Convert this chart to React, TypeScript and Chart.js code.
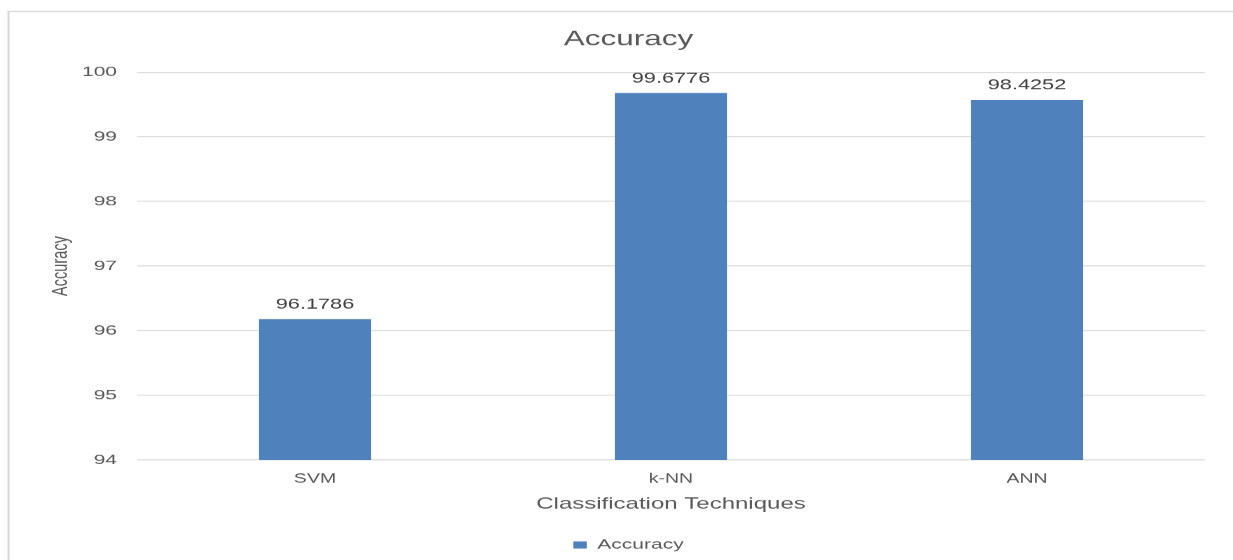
import React, { useEffect, useRef } from "react";
import { Chart, registerables } from "chart.js";

Chart.register(...registerables);

// ---- data ----
const categories = ["SVM", "k-NN", "ANN"];
const accuracyValues = [96.1786, 99.6776, 99.57];
const valueLabels = ["96.1786", "99.6776", "98.4252"];
const yTickValues = [94, 95, 96, 97, 98, 99, 100];
const chartTitle = "Accuracy";
const seriesName = "Accuracy";
const xAxisTitle = "Classification Techniques";
const yAxisTitle = "Accuracy";

// ---- layout (the reference is horizontally stretched by 1.5) ----
const W = 1233;
const H = 560;
const SX = 1.5;
const CW = 838; // chart object extends a little past the right edge of the window
const PLOT_LEFT = 137 / SX;
const PLOT_RIGHT = 1205 / SX;
const FONT = "'Liberation Sans', Arial, sans-serif";
const TEXT = "#595959";
const BAR = "#4f81bd";

const borderPlugin = {
  id: "outerBorder",
  beforeDraw(chart: any) {
    const ctx = chart.ctx;
    ctx.save();
    ctx.fillStyle = "#ffffff";
    ctx.fillRect(0, 0, chart.width, chart.height);
    ctx.strokeStyle = "#d9d9d9";
    ctx.lineWidth = 1.4;
    ctx.beginPath();
    ctx.moveTo(5.7, 11.5);
    ctx.lineTo(5.7, chart.height);
    ctx.stroke();
    ctx.lineWidth = 1.2;
    ctx.beginPath();
    ctx.moveTo(5, 11.5);
    ctx.lineTo(chart.width, 11.5);
    ctx.stroke();
    ctx.restore();
  },
};

const dataLabelPlugin = {
  id: "dataLabels",
  afterDatasetsDraw(chart: any) {
    const ctx = chart.ctx;
    const meta = chart.getDatasetMeta(0);
    ctx.save();
    ctx.fillStyle = "#404040";
    ctx.font = `14.5px ${FONT}`;
    ctx.textAlign = "center";
    ctx.textBaseline = "middle";
    meta.data.forEach((bar: any, i: number) => {
      ctx.fillText(valueLabels[i], bar.x, bar.y - 14.5);
    });
    ctx.restore();
  },
};

export default function App() {
  const canvasRef = useRef<HTMLCanvasElement | null>(null);

  useEffect(() => {
    const canvas = canvasRef.current;
    if (!canvas) return;
    const chart = new Chart(canvas, {
      type: "bar",
      data: {
        labels: categories,
        datasets: [
          {
            label: seriesName,
            data: accuracyValues,
            backgroundColor: BAR,
            borderWidth: 0,
            categoryPercentage: 1,
            barPercentage: 0.315,
            yAxisID: "y",
          },
        ],
      },
      plugins: [borderPlugin, dataLabelPlugin],
      options: {
        animation: false,
        responsive: false,
        devicePixelRatio: 1.5,
        layout: {
          padding: { left: 0, right: 0, top: 0, bottom: -2 },
        },
        plugins: {
          title: {
            display: true,
            text: chartTitle,
            color: TEXT,
            font: { family: FONT, size: 21, weight: "normal" },
            padding: { top: 27, bottom: 20 },
          },
          legend: {
            position: "bottom",
            labels: {
              color: TEXT,
              font: { family: FONT, size: 14 },
              boxWidth: 9,
              boxHeight: 7,
              padding: 10,
            },
          },
          tooltip: { enabled: false },
        },
        scales: {
          x: {
            grid: { display: false, drawTicks: false },
            border: { display: false },
            ticks: {
              color: TEXT,
              font: { family: FONT, size: 13 },
              padding: 11,
            },
            title: {
              display: true,
              text: xAxisTitle,
              color: TEXT,
              font: { family: FONT, size: 16 },
              padding: { top: 0, bottom: 14 },
            },
            afterFit: (scale: any) => {
              scale.height = 68;
            },
          },
          y: {
            min: yTickValues[0],
            max: yTickValues[yTickValues.length - 1],
            afterBuildTicks: (scale: any) => {
              scale.ticks = yTickValues.map((v) => ({ value: v }));
            },
            ticks: {
              color: TEXT,
              font: { family: FONT, size: 14 },
              padding: 13.3,
            },
            grid: { color: "#d9d9d9", drawTicks: false },
            border: { display: false },
            title: {
              display: true,
              text: yAxisTitle,
              color: TEXT,
              font: { family: FONT, size: 14.6 },
              padding: { top: 32, bottom: 0 },
            },
            afterFit: (scale: any) => {
              scale.width = PLOT_LEFT;
            },
          },
          yRight: {
            type: "linear",
            position: "right",
            display: true,
            min: yTickValues[0],
            max: yTickValues[yTickValues.length - 1],
            grid: { display: false, drawTicks: false },
            border: { display: false },
            ticks: { display: false },
            afterFit: (scale: any) => {
              scale.width = CW - PLOT_RIGHT;
            },
          },
        },
      },
    });
    return () => chart.destroy();
  }, []);

  return (
    <div
      style={{
        position: "fixed",
        left: 0,
        top: 0,
        width: W,
        height: H,
        overflow: "hidden",
        background: "#ffffff",
      }}
    >
      <div
        style={{
          width: CW,
          height: H,
          transform: `scaleX(${SX})`,
          transformOrigin: "0 0",
        }}
      >
        <canvas ref={canvasRef} width={CW} height={H} />
      </div>
    </div>
  );
}
